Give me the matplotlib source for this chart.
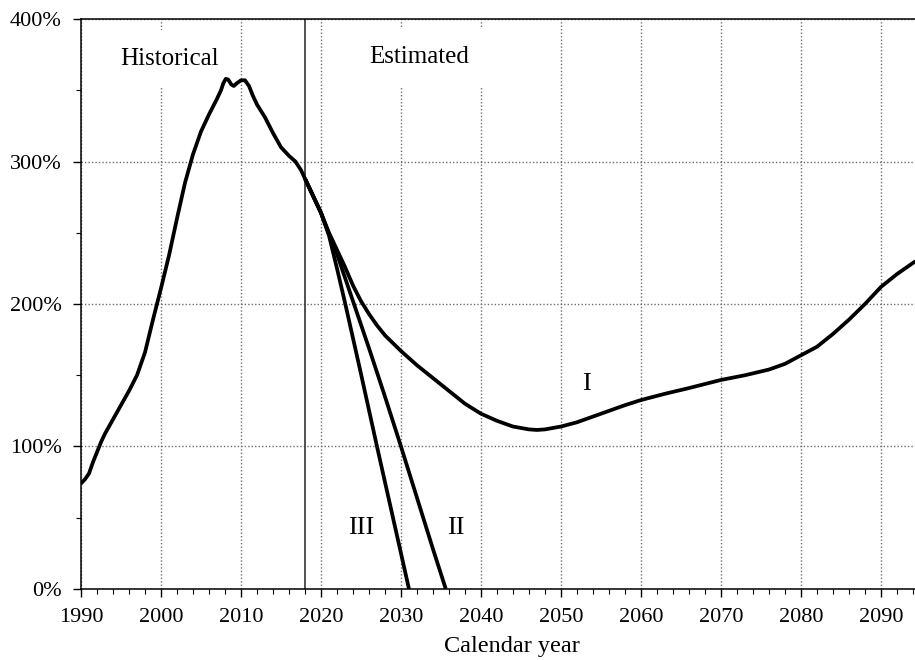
import matplotlib.pyplot as plt
from matplotlib.ticker import MultipleLocator, PercentFormatter

# historical ratio (per cent)
hist_years = [1990, 1990.5, 1991, 1991.5, 1992, 1992.5, 1993, 1994, 1995, 1996, 1997,
              1998, 1999, 2000, 2001, 2002, 2003, 2004, 2005, 2006, 2007, 2007.5,
              2007.8, 2008.1, 2008.4, 2008.8, 2009.1, 2009.5, 2010, 2010.5, 2011,
              2011.5, 2012, 2013, 2014, 2015, 2016, 2016.8, 2017.5, 2018]
hist_values = [74, 77, 81, 89, 96, 103, 109, 119, 129, 139, 150,
               166, 189, 211, 234, 260, 285, 305, 321, 333, 344, 350,
               355, 358, 357.5, 354, 353, 355, 357, 357, 353,
               346, 340, 331, 320, 310, 304, 300, 294, 288]

# estimate I
est1_years = [2018, 2019, 2020, 2021, 2022, 2023, 2024, 2025, 2026, 2027, 2028, 2030,
              2032, 2034, 2036, 2038, 2040, 2042, 2044, 2046, 2047, 2048, 2050,
              2052, 2055, 2058, 2060, 2063, 2066, 2070, 2073, 2076, 2078, 2080,
              2082, 2084, 2086, 2088, 2090, 2092, 2094.3]
est1_values = [288, 276, 264, 250, 238, 226, 213, 202, 193, 185, 178, 167,
               157, 148, 139, 130, 123, 118, 114, 112, 111.6, 112, 114,
               117, 123, 129, 132.6, 137, 141, 146.7, 150, 154, 158, 164,
               170, 179, 189, 200, 212, 221, 230]

# estimate II
est2_years = [2018, 2019, 2020, 2021, 2022, 2024, 2026, 2028, 2030, 2032, 2034, 2035.6]
est2_values = [288, 276, 264, 249, 235, 202, 169, 135, 100, 64, 28, 0]

# estimate III
est3_years = [2018, 2019, 2020, 2021, 2022, 2023, 2025, 2027, 2029, 2031]
est3_values = [288, 276, 264, 248, 225, 201, 151, 100, 50, 0]

plt.rcParams['font.family'] = ['Liberation Serif', 'DejaVu Serif']

fig = plt.figure(figsize=(9.15, 6.6), dpi=100)
ax = fig.add_axes([0.0885, 0.1076, 0.9115, 0.8636])

ax.set_xlim(1990, 2094.25)
ax.set_ylim(0, 400)

ax.xaxis.set_major_locator(MultipleLocator(10))
ax.xaxis.set_minor_locator(MultipleLocator(2))
ax.yaxis.set_major_locator(MultipleLocator(100))
ax.yaxis.set_minor_locator(MultipleLocator(50))
ax.yaxis.set_major_formatter(PercentFormatter(decimals=0))

ax.tick_params(which='major', direction='out', length=6, width=1, labelsize=16)
ax.tick_params(axis='x', which='major', pad=8)
ax.tick_params(axis='y', which='major', pad=8)
ax.tick_params(which='minor', direction='out', length=3.5, width=0.8)

ax.grid(True, which='major', color='#6e6e6e', linestyle=(0, (1, 1.5)), linewidth=1.0)
ax.set_axisbelow(True)

ax.spines['right'].set_visible(False)
for side in ['left', 'bottom', 'top']:
    ax.spines[side].set_linewidth(1.1)

ax.axvline(2018, color='#333333', linewidth=1.2, zorder=1.8)

for xs, ys in [(hist_years, hist_values), (est1_years, est1_values),
               (est2_years, est2_values), (est3_years, est3_values)]:
    ax.plot(xs, ys, color='black', linewidth=2.7, zorder=2,
            solid_joinstyle='round', solid_capstyle='butt')

box = dict(boxstyle='square,pad=0.7', facecolor='white', edgecolor='none')
ax.text(2001.1, 372, 'Historical', fontsize=18, ha='center', va='center',
        bbox=box, zorder=1.5)
ax.text(2032.3, 373, 'Estimated', fontsize=18, ha='center', va='center',
        bbox=box, zorder=1.5)

ax.text(2053.2, 144, 'I', fontsize=19, ha='center', va='center')
ax.text(2036.8, 43, 'II', fontsize=19, ha='center', va='center')
ax.text(2025.0, 43, 'III', fontsize=19, ha='center', va='center')

ax.set_xlabel('Calendar year', fontsize=17.5)
ax.xaxis.set_label_coords(0.517, -0.082)

fig.savefig('out.png', dpi=100)
